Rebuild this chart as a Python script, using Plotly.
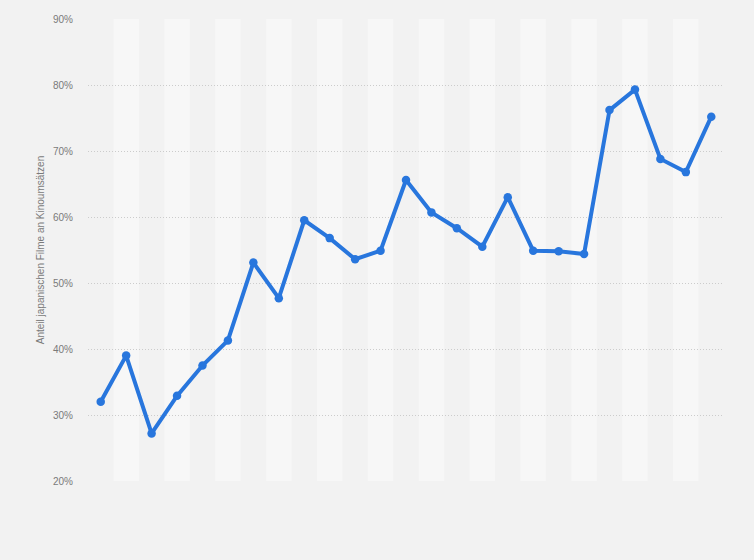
import plotly.graph_objects as go

categories = list(range(25))
share_pct = [32.0, 39.0, 27.2, 32.9, 37.5, 41.3, 53.1, 47.7, 59.5, 56.8,
             53.6, 54.9, 65.6, 60.7, 58.3, 55.5, 63.0, 54.9, 54.8, 54.4,
             76.2, 79.3, 68.8, 66.8, 75.2]
y_ticks = [20, 30, 40, 50, 60, 70, 80, 90]
y_tick_labels = [f"{v}%" for v in y_ticks]
y_title = "Anteil japanischen Filme an Kinoumsätzen"

LINE = "#2876dd"
BG = "#f2f2f2"
BAND = "#f7f7f7"
TXT = "#7a7a7a"

fig = go.Figure()
fig.add_trace(go.Scatter(
    x=categories, y=share_pct, mode="lines+markers",
    line=dict(color=LINE, width=4),
    marker=dict(color=LINE, size=8.5),
    hoverinfo="skip", showlegend=False,
))

shapes = []
for i in categories:
    if i % 2 == 1:
        shapes.append(dict(type="rect", xref="x", yref="y",
                           x0=i - 0.5, x1=i + 0.5, y0=20, y1=90,
                           fillcolor=BAND, line=dict(width=0), layer="below"))

fig.update_layout(
    width=754, height=560,
    margin=dict(l=88, r=30, t=19, b=79, autoexpand=False),
    paper_bgcolor=BG, plot_bgcolor=BG,
    font=dict(family="Liberation Sans, Arial, sans-serif", size=10, color=TXT),
    shapes=shapes,
    xaxis=dict(range=[-0.5, 24.5], showticklabels=False, showgrid=False,
               zeroline=False, showline=False, fixedrange=True),
    yaxis=dict(range=[20, 90], tickvals=y_ticks, ticktext=y_tick_labels,
               showgrid=True, gridcolor="#cccccc", griddash="1px,2px", gridwidth=1,
               zeroline=False, showline=False, ticks="",
               ticklabelstandoff=14,
               tickfont=dict(size=10, color=TXT),
               title=dict(text=y_title, font=dict(size=10, color=TXT), standoff=6),
               automargin=False, fixedrange=True),
)

fig.write_html("out.html", config={"displayModeBar": False},
               post_script="document.body.style.margin='0';document.body.style.background='%s';" % BG)
